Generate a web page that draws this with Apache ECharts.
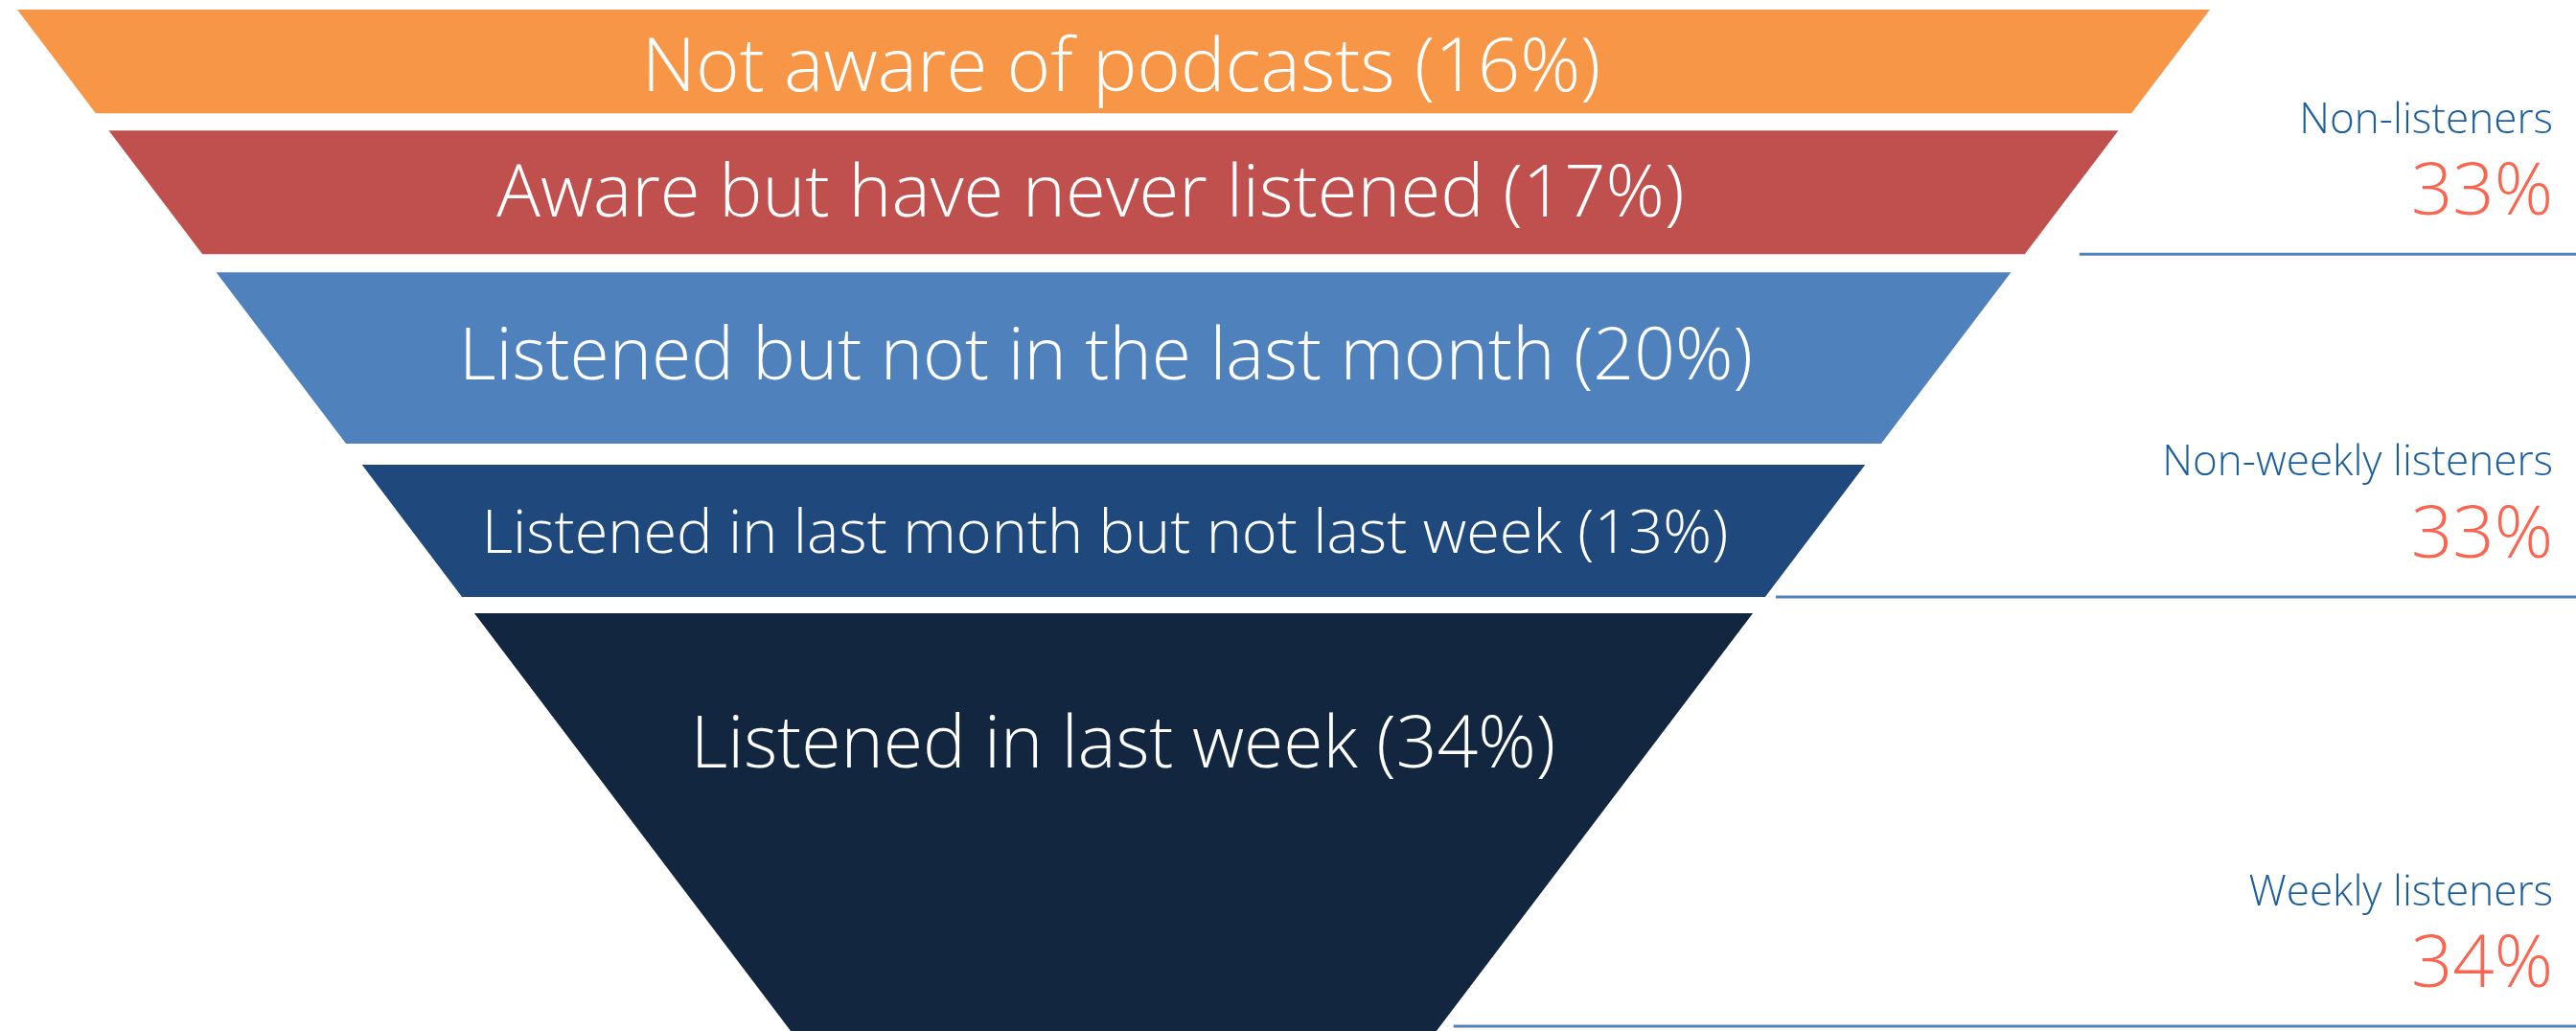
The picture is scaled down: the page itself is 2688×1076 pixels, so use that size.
<!DOCTYPE html>
<html>
<head>
<meta charset="utf-8">
<script src="https://cdn.jsdelivr.net/npm/echarts@6/dist/echarts.min.js"></script>
<style>
  html, body { margin: 0; padding: 0; background: #fff; }
  #chart { width: 2688px; height: 1076px; }
</style>
</head>
<body>
<div id="chart"></div>
<script>
const STAGES = [
  "Not aware of podcasts",
  "Aware but have never listened",
  "Listened but not in the last month",
  "Listened in last month but not last week",
  "Listened in last week"
];
const SHARES = [16, 17, 20, 13, 34];

const GROUPS = ["Non-listeners", "Non-weekly listeners", "Weekly listeners"];
const GROUP_SHARES = [33, 33, 34];
const GROUP_LAST_STAGE = [1, 3, 4];

const COLORS = ["#F79646", "#C0504D", "#4F81BD", "#1F497D", "#12263F"];
const FONT = "'Open Sans', 'Noto Sans', sans-serif";
const LABEL_SIZE = [78, 76, 75, 63, 75];
const LABEL_DX = [8, -24, -8, -9, 10];
const LABEL_POS = [0.537, 0.49, 0.478, 0.5, 0.31];
const LABEL_DY = 5;
const GAPS = [18, 19, 22, 17, 0];
const LINE_DX = [57, 11, 14];

// funnel is area-proportional: cumulative share -> depth inside the triangle (0 top, 1 apex)
const depth = p => 1 - Math.sqrt(1 - p / 100);
const bounds = [];
SHARES.reduce((acc, v, i) => { bounds[i] = [acc, acc + v]; return acc + v; }, 0);

const stageData = STAGES.map((name, i) => ({
  name,
  value: [depth(bounds[i][0]), depth(bounds[i][1]), SHARES[i]]
}));
const groupData = GROUPS.map((name, i) => ({
  name,
  value: [depth(bounds[GROUP_LAST_STAGE[i]][1]), GROUP_SHARES[i], GROUP_LAST_STAGE[i]]
}));

const lerp = (a, b, t) => [a[0] + (b[0] - a[0]) * t, a[1] + (b[1] - a[1]) * t];

function renderStage(params, api) {
  const i = params.dataIndex;
  const a = api.value(0), b = api.value(1);
  const p0 = api.coord([-(1 - a), a]);
  const p1 = api.coord([1 - a, a]);
  let q1 = api.coord([1 - b, b]);
  let q0 = api.coord([-(1 - b), b]);
  if (GAPS[i]) {
    const t = GAPS[i] / (q1[1] - p1[1]);
    q1 = lerp(q1, p1, t);
    q0 = lerp(q0, p0, t);
  }
  const visBottom = Math.min(q1[1], api.getHeight());
  const cx = (p0[0] + p1[0]) / 2 + LABEL_DX[i];
  const cy = p1[1] + (visBottom - p1[1]) * LABEL_POS[i] + LABEL_DY;
  return {
    type: "group",
    children: [
      { type: "polygon", shape: { points: [p0, p1, q1, q0] }, style: { fill: COLORS[i] } },
      {
        type: "text",
        style: {
          text: `${STAGES[i]} (${SHARES[i]}%)`,
          x: cx, y: cy,
          align: "center", verticalAlign: "middle",
          fill: "#fff", fontFamily: FONT, fontWeight: 300, fontSize: LABEL_SIZE[i]
        }
      }
    ]
  };
}

function renderGroup(params, api) {
  const i = params.dataIndex;
  const d = api.value(0);
  const top = api.coord([1, 0]);
  const apex = api.coord([0, 1]);
  const H = api.getHeight(), W = api.getWidth();
  const y = Math.min(api.coord([0, d])[1] - GAPS[api.value(2)], H - 5);
  const edgeX = top[0] + (apex[0] - top[0]) * (y - top[1]) / (apex[1] - top[1]);
  const tx = W - 24;
  return {
    type: "group",
    children: [
      { type: "line", shape: { x1: edgeX + LINE_DX[i], y1: y, x2: W, y2: y }, style: { stroke: "#4F81BD", lineWidth: 3 } },
      {
        type: "text",
        style: {
          text: GROUPS[i], x: tx, y: y - 139, align: "right", verticalAlign: "middle",
          fill: "#1B5E9F", fontFamily: FONT, fontWeight: 300, fontSize: 44
        }
      },
      {
        type: "text",
        style: {
          text: `${api.value(1)}%`, x: tx, y: y - 63, align: "right", verticalAlign: "middle",
          fill: "#F9654E", fontFamily: FONT, fontWeight: 300, fontSize: 76
        }
      }
    ]
  };
}

const chart = echarts.init(document.getElementById("chart"), null, { renderer: "canvas" });
chart.setOption({
  animation: false,
  backgroundColor: "#fff",
  grid: { left: 18, top: 10, width: 2288, height: 1511, outerBoundsMode: "none", containLabel: false },
  xAxis: { type: "value", min: -1, max: 1, show: false },
  yAxis: { type: "value", min: 0, max: 1, inverse: true, show: false },
  series: [
    { type: "custom", name: "stages", renderItem: renderStage, data: stageData, silent: true },
    { type: "custom", name: "groups", renderItem: renderGroup, data: groupData, silent: true }
  ]
});
</script>
</body>
</html>
